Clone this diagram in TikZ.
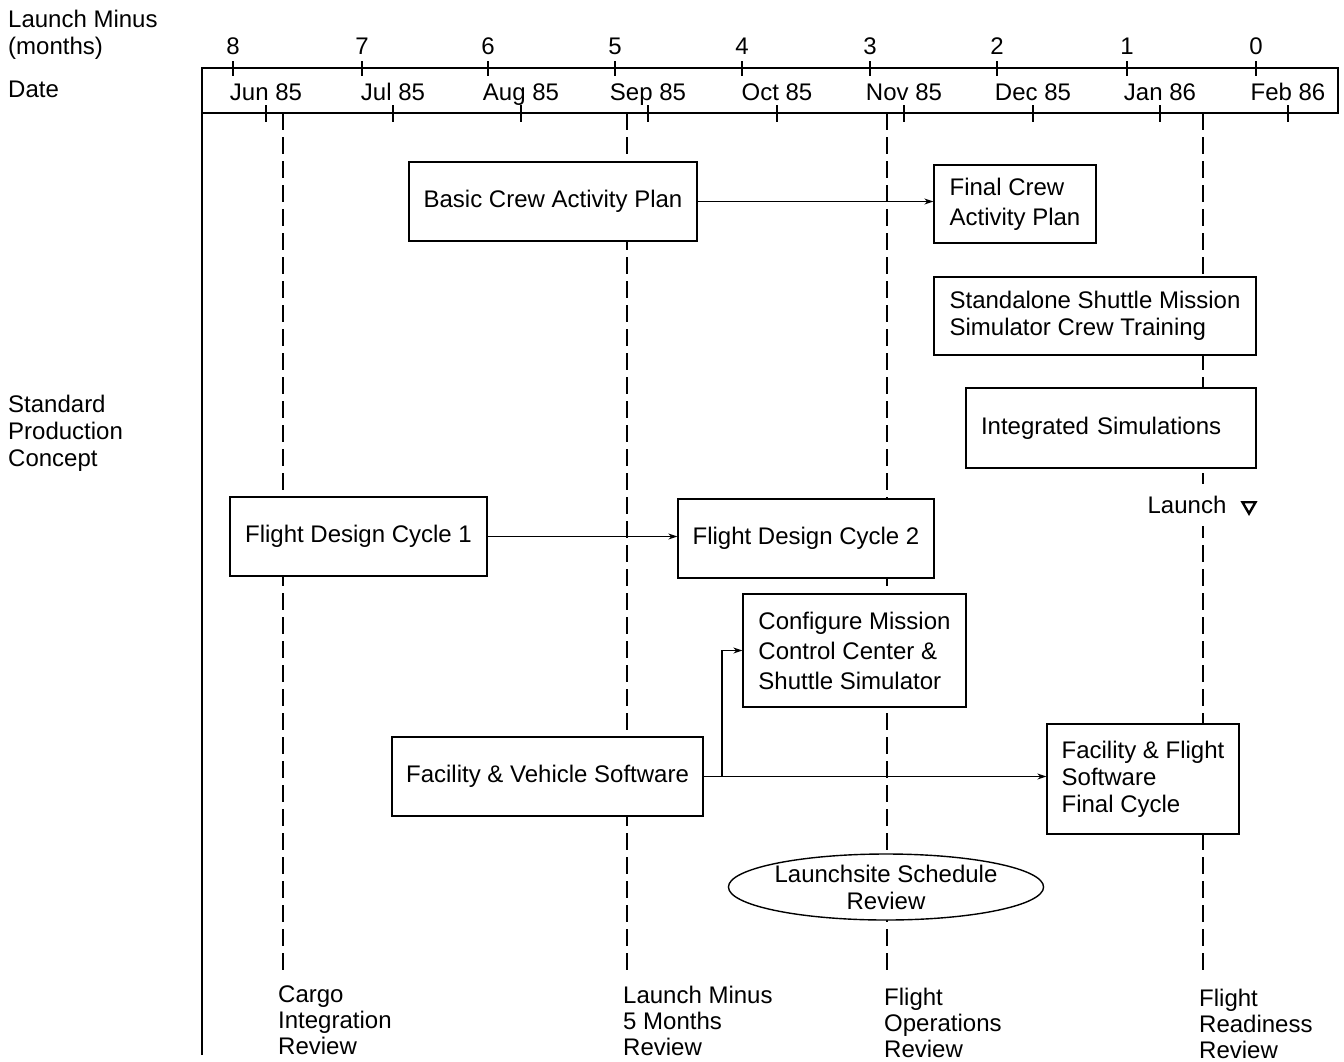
\documentclass[tikz,border=0pt]{standalone}
\usepackage{fontspec}
\setmainfont{Liberation Sans}
\usetikzlibrary{arrows.meta,shapes.geometric}

\begin{document}
\begin{tikzpicture}[x=1pt,y=-1pt,
  every node/.style={font=\fontsize{24}{27}\selectfont,inner sep=0},
  box/.style={draw,fill=white,line width=1.4},
  milestone/.style={line width=1.8,dash pattern=on 17pt off 7pt},
  review/.style={anchor=north west,align=left,font=\fontsize{24}{26}\selectfont},
  arr/.style={line width=1.1,-{Stealth[length=9pt,width=6pt]}}]
  \useasboundingbox (0,0) rectangle (1344,1061);

  % time scale
  \node[anchor=north west,align=left] (lmlbl) at (8,10) {Launch Minus\\(months)};
  \node[anchor=base west] (datelbl) at (8,97) {Date};
  \node[anchor=north west,align=left] (spclbl) at (8,395) {Standard\\Production\\Concept};
  \draw[line width=1.8] (202,1055) -- (202,68) -- (1338,68) -- (1338,113) -- (202,113);
  \foreach \m/\x in {8/233,7/362,6/488,5/615,4/742,3/870,2/997,1/1127,0/1256} {
    \node[anchor=base] (m\m) at (\x,54) {\m};
    \draw[line width=1.6] (\x,61) -- (\x,76);
  }
  \foreach \d/\x [count=\i] in {Jun 85/266,Jul 85/393,Aug 85/521,Sep 85/648,Oct 85/777,Nov 85/904,Dec 85/1033,Jan 86/1160,Feb 86/1288} {
    \node[anchor=base] (d\i) at (\x,100) {\d};
    \draw[line width=1.6] (\x,105) -- (\x,122);
  }

  % milestones
  \coordinate (cirtop) at (283,113);  \coordinate (cirend) at (283,975);
  \coordinate (lm5top) at (627,113);  \coordinate (lm5end) at (627,975);
  \coordinate (fortop) at (887,113);  \coordinate (forend) at (887,975);
  \coordinate (frrtop) at (1203,113); \coordinate (frrend) at (1203,975);
  \draw[milestone] (cirtop) -- (cirend);
  \draw[milestone] (lm5top) -- (lm5end);
  \draw[milestone] (fortop) -- (forend);
  \draw[milestone] (frrtop) -- (frrend);
  \node[review] (cirlbl) at (278,986) {Cargo\\Integration\\Review};
  \node[review] (lm5lbl) at (623,986) {Launch Minus\\5 Months\\Review};
  \node[review] (forlbl) at (884,988) {Flight\\Operations\\Review};
  \node[review] (frrlbl) at (1199,989) {Flight\\Readiness\\Review};

  % activities
  \node[box,minimum width=288,minimum height=79] (bcap) at (553,201.5) {Basic Crew Activity Plan};
  \node[box,minimum width=162,minimum height=78,align=left,font=\fontsize{24}{30}\selectfont] (fcap) at (1015,204) {Final Crew\\Activity Plan};
  \node[box,minimum width=322,minimum height=78,align=left] (ssms) at (1095,316) {Standalone Shuttle Mission\\Simulator Crew Training};
  \node[box,text width=260,inner xsep=15,minimum height=80,align=left] (isim) at (1111,428) {Integrated Simulations};
  \node[fill=white,minimum height=42] (launch) at (1187,505) {Launch};
  \node[regular polygon,regular polygon sides=3,shape border rotate=180,draw,line width=2.4,minimum size=15] (ltri) at (1249,506) {};
  \node[box,minimum width=257,minimum height=79] (fdc1) at (358.5,536.5) {Flight Design Cycle 1};
  \node[box,minimum width=256,minimum height=79] (fdc2) at (806,538.5) {Flight Design Cycle 2};
  \node[box,minimum width=223,minimum height=113,align=left,font=\fontsize{24}{30}\selectfont] (cmcc) at (854.5,650.5) {Configure Mission\\Control Center \&\\Shuttle Simulator};
  \node[box,minimum width=311,minimum height=79] (fvsw) at (547.5,776.5) {Facility \& Vehicle Software};
  \node[box,minimum width=192,minimum height=110,align=left] (ffsw) at (1143,779) {Facility \& Flight\\Software\\Final Cycle};
  \node[ellipse,draw,fill=white,line width=1.4,minimum width=313,minimum height=66,align=center] (lsr) at (886,887) {Launchsite Schedule\\Review};

  \draw[arr] (bcap.east) -- (bcap.east -| fcap.west);
  \draw[arr] (fdc1.east) -- (fdc1.east -| fdc2.west);
  \draw[arr] (fvsw.east) -- (fvsw.east -| ffsw.west);
  \coordinate (split) at (722,776.5);
  \draw[arr] (split) |- (cmcc.west);
\end{tikzpicture}
\end{document}
